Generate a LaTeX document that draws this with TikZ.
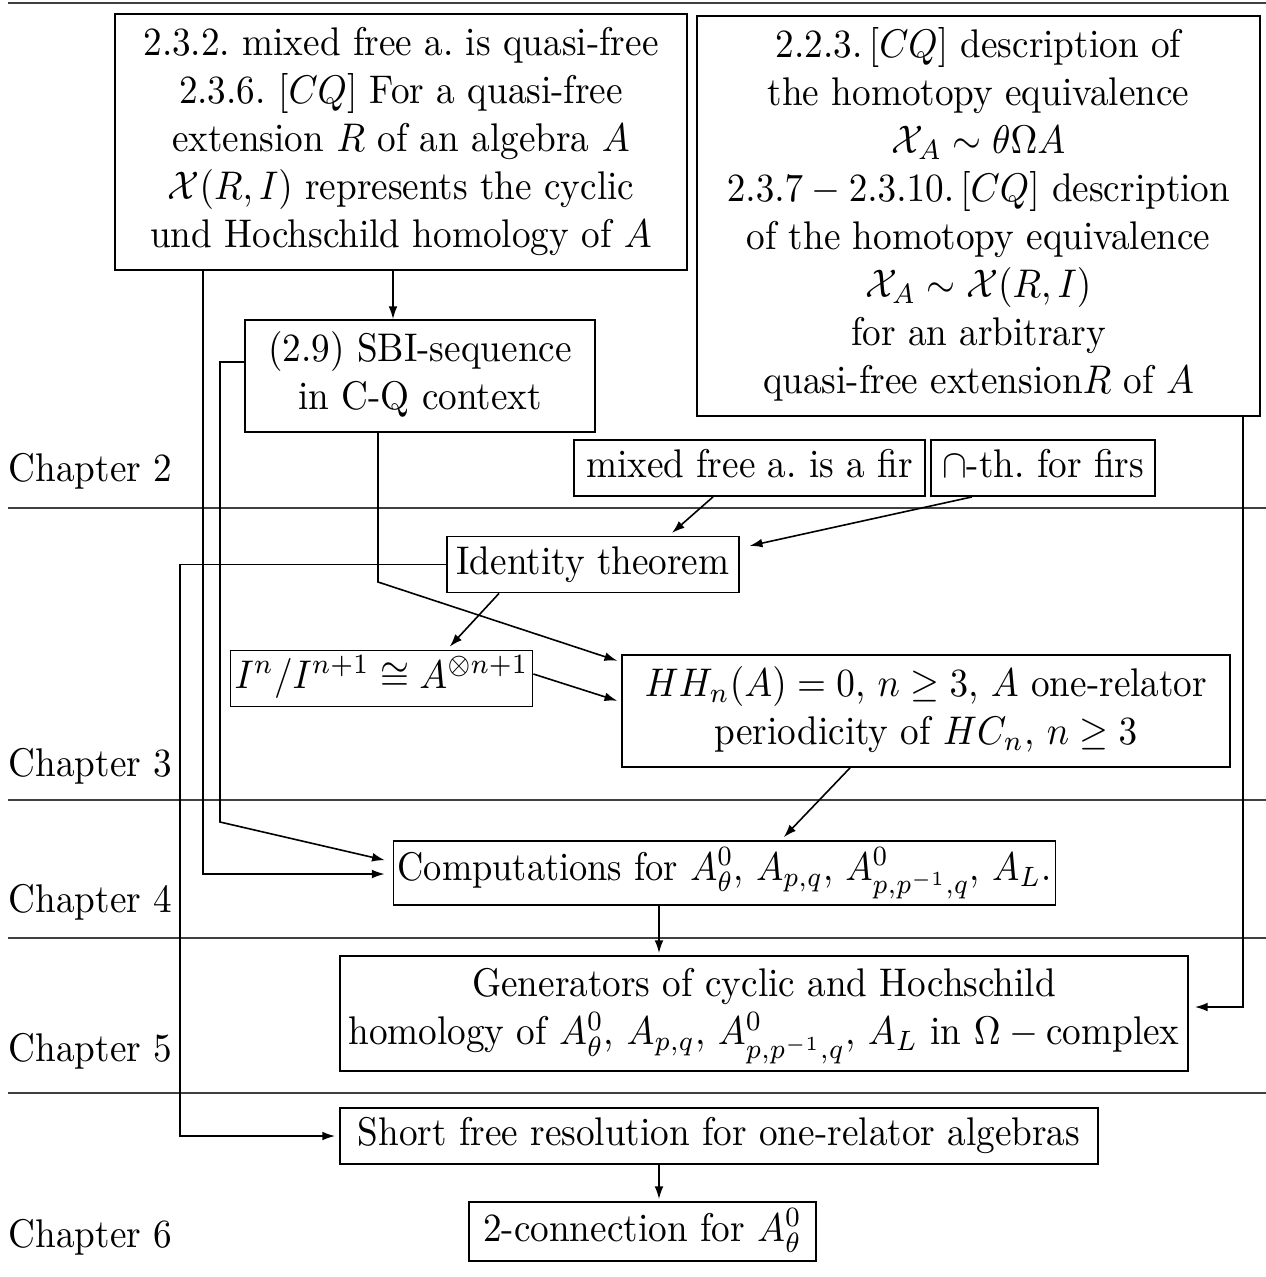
\documentclass[tikz,border=0pt]{standalone}
\usepackage{graphicx}
\usetikzlibrary{arrows.meta}
\newcommand{\sxt}[1]{\scalebox{0.93}[1]{\begin{tabular}{@{}c@{}}#1\end{tabular}}}
\begin{document}
\begin{tikzpicture}[x=0.25pt,y=-0.25pt,
  bx/.style={draw,line width=0.45pt,align=center,inner sep=1pt,font=\fontsize{10}{12}\selectfont},
  sep/.style={draw=black!75,line width=0.5pt},
  arr/.style={line width=0.4pt,-{Latex[length=3.2pt,width=2.2pt]}},
  chap/.style={anchor=base west,inner sep=0pt,font=\fontsize{10}{12}\selectfont}]
\useasboundingbox (0,0) rectangle (1266,1277);
% separators
\foreach \yy in {3,508,800,938,1093}{
  \draw[sep] (8,\yy) -- (1266,\yy);
}
% chapter labels
\node[chap] (ch2) at (8,481) {\scalebox{0.93}[1]{Chapter 2}};
\node[chap] (ch3) at (8,776) {\scalebox{0.93}[1]{Chapter 3}};
\node[chap] (ch4) at (8,912) {\scalebox{0.93}[1]{Chapter 4}};
\node[chap] (ch5) at (8,1061) {\scalebox{0.93}[1]{Chapter 5}};
\node[chap] (ch6) at (8,1247) {\scalebox{0.93}[1]{Chapter 6}};
% boxes
\node[bx,minimum width=143pt,minimum height=64pt] (box1) at (401,142) {\sxt{2.3.2.\ mixed free a.\ is quasi-free\\
2.3.6.\ $[CQ]$ For a quasi-free\\
extension $R$ of an algebra $A$\\
$\mathcal{X}(R,I)$ represents the cyclic\\
und Hochschild homology of $A$}};
\node[bx,minimum width=140.75pt,minimum height=100pt] (box2) at (978.5,216) {\sxt{2.2.3.$\,[CQ]$ description of\\
the homotopy equivalence\\
$\mathcal{X}_A\sim\theta\Omega A$\\
$2.3.7-2.3.10.\,[CQ]$ description\\
of the homotopy equivalence\\
$\mathcal{X}_A\sim\mathcal{X}(R,I)$\\
for an arbitrary\\
quasi-free extension$R$ of $A$}};
\node[bx,minimum width=87.5pt,minimum height=28pt] (sbi) at (420,376) {\sxt{(2.9) SBI-sequence\\ in C-Q context}};
\node[bx,minimum width=87.75pt,minimum height=11pt] (fir) at (749.5,468) {\sxt{mixed free a.\ is a fir}};
\node[bx,minimum width=56pt,minimum height=11pt] (cap) at (1043,468) {\sxt{$\cap$-th.\ for firs}};
\node[bx,minimum width=73pt,minimum height=12.75pt] (ident) at (593,564.5) {\sxt{Identity theorem}};
\node[bx,minimum width=73.75pt,minimum height=13.75pt] (inI) at (381.5,678.5) {\sxt{$I^n/I^{n+1}\cong A^{\otimes n+1}$}};
\node[bx,minimum width=152pt,minimum height=28pt] (hh) at (926,711) {\sxt{$HH_n(A)=0$, $n\geq 3$, $A$ one-relator\\ periodicity of $HC_n$, $n\geq 3$}};
\node[bx,minimum width=165.25pt,minimum height=16pt] (comp) at (724.5,873) {\scalebox{0.91}[1]{\begin{tabular}{@{}c@{}}Computations for $A^0_\theta$, $A_{p,q}$, $A^0_{p,p^{-1},q}$, $A_L$.\end{tabular}}};
\node[bx,minimum width=212pt,minimum height=28.75pt] (gen) at (764,1013.5) {\sxt{Generators of cyclic and Hochschild\\ homology of $A^0_\theta$, $A_{p,q}$, $A^0_{p,p^{-1},q}$, $A_L$ in $\Omega-{}$complex}};
\node[bx,minimum width=189.5pt,minimum height=12.5pt] (short) at (719,1136) {\sxt{Short free resolution for one-relator algebras}};
\node[bx,minimum width=86.75pt,minimum height=14.75pt] (conn2) at (642.5,1231.5) {\sxt{2-connection for $A^0_\theta$}};
% helper coordinates
\coordinate (x180) at (180,0);
\coordinate (x203) at (203,0);
\coordinate (x220) at (220,0);
\coordinate (x378) at (378,0);
\coordinate (x393) at (393,0);
\coordinate (x499) at (499,0);
\coordinate (x447) at (447,0);
\coordinate (x669) at (669,0);
\coordinate (x713) at (713,0);
\coordinate (x972) at (972,0);
\coordinate (x850) at (850,0);
\coordinate (x781) at (781,0);
\coordinate (x659) at (659,0);
\coordinate (x1243) at (1243,0);
\coordinate (y362) at (0,362);
\coordinate (y548) at (0,548);
\coordinate (y582) at (0,582);
\coordinate (y662) at (0,662);
\coordinate (y674) at (0,674);
\coordinate (y702) at (0,702);
\coordinate (y822) at (0,822);
\coordinate (y862) at (0,862);
\coordinate (y874) at (0,874);
\coordinate (y1007) at (0,1007);
% connectors
\draw[arr,shorten >=2pt] (box1.south -| x203) -- (x203 |- y874) -- (comp.west |- y874);
\draw[arr] (box1.south -| x393) -- (sbi.north -| x393);
\draw[arr,shorten >=2pt] (sbi.west |- y362) -- (x220 |- y362) -- (x220 |- y822) -- (comp.west |- y862);
\draw[arr,shorten >=1pt] (sbi.south -| x378) -- (x378 |- y582) -- (hh.west |- y662);
\draw[arr,shorten >=1pt] (ident.west) -- (x180 |- ident.west) -- (x180 |- short.west) -- (short.west);
\draw[arr,shorten >=1pt] (fir.south -| x713) -- (ident.north -| x669);
\draw[arr,shorten >=2.5pt] (cap.south -| x972) -- (ident.east |- y548);
\draw[arr,shorten >=1pt] (ident.south -| x499) -- (inI.north -| x447);
\draw[arr,shorten >=1pt] (inI.east |- y674) -- (hh.west |- y702);
\draw[arr,shorten >=1pt] (hh.south -| x850) -- (comp.north -| x781);
\draw[arr,shorten >=0.5pt] (comp.south -| x659) -- (gen.north -| x659);
\draw[arr,shorten >=1.5pt] (box2.south -| x1243) -- (x1243 |- y1007) -- (gen.east |- y1007);
\draw[arr,shorten >=0.5pt] (short.south -| x659) -- (conn2.north -| x659);
\end{tikzpicture}
\end{document}
